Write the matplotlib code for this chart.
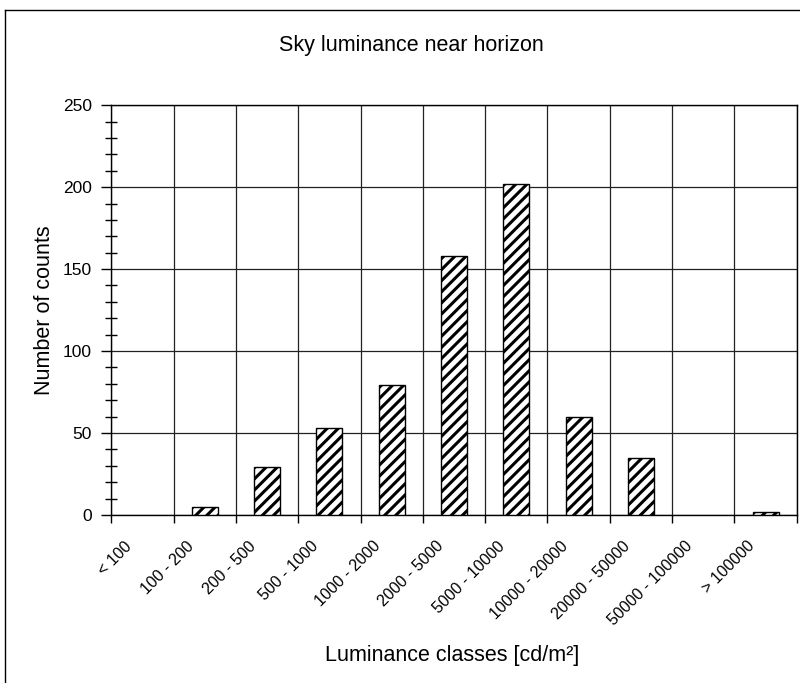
#!/usr/bin/env python3
"""
Histogram of sky luminance counts near the horizon, per luminance class
"""
import matplotlib
matplotlib.use('Agg')
import matplotlib.pyplot as plt
from matplotlib.lines import Line2D
from matplotlib.ticker import MultipleLocator
import numpy as np

plt.rcParams['font.family'] = ['Liberation Sans', 'DejaVu Sans']
plt.rcParams['hatch.linewidth'] = 2.2

# Luminance classes [cd/m2] and number of counts in each
classes = ['< 100', '100 - 200', '200 - 500', '500 - 1000', '1000 - 2000',
           '2000 - 5000', '5000 - 10000', '10000 - 20000', '20000 - 50000',
           '50000 - 100000', '> 100000']
counts = [0, 5, 29, 53, 79, 158, 202, 60, 35, 0, 2]

fig = plt.figure(figsize=(8, 6.83), dpi=100)
ax = fig.add_axes([0.139, 0.246, 0.857, 0.6])

x = np.arange(len(classes))
bars = ax.bar(x, counts, width=0.42, color='white', edgecolor='black',
              linewidth=1.0, hatch='///', zorder=3)
# empty classes get no outline
for b, c in zip(bars, counts):
    if c == 0:
        b.set_visible(False)

ax.set_xlim(-0.5, len(classes) - 0.5)
ax.set_ylim(0, 250)

# Gridlines on class boundaries; class names sit on invisible minor ticks,
# nudged left so the slanted text ends under its bar
ax.set_xticks(np.arange(len(classes) + 1) - 0.5)
ax.set_xticklabels([])
ax.set_xticks(x - 0.3, minor=True)
ax.set_xticklabels(classes, minor=True, rotation=45, ha='right', va='top',
                   rotation_mode='anchor', fontsize=11.5)
ax.tick_params(axis='x', which='major', direction='out', length=6, width=1)
ax.tick_params(axis='x', which='minor', length=0, pad=17)

ax.yaxis.set_major_locator(MultipleLocator(50))
ax.yaxis.set_minor_locator(MultipleLocator(10))
ax.tick_params(axis='y', which='major', direction='out', length=7, width=1,
               labelsize=12.5, pad=7)
ax.tick_params(axis='y', which='minor', direction='inout', length=8, width=1)

ax.grid(True, which='major', color='#222222', linewidth=0.9, zorder=0)
for s in ax.spines.values():
    s.set_linewidth(1.0)
    s.set_color('black')

fig.text(45 / 800, 1 - 310 / 683, 'Number of counts', fontsize=15.5,
         rotation=90, ha='center', va='center')
fig.text(452 / 800, 1 - 655 / 683, 'Luminance classes [cd/m²]', fontsize=15.5,
         ha='center', va='center')
fig.text(411 / 800, 1 - 45 / 683, 'Sky luminance near horizon', fontsize=15.5,
         ha='center', va='center')

# Chart frame
fig.add_artist(Line2D([5 / 800, 5 / 800], [0, 1 - 10 / 683], color='black',
                      linewidth=1.0, transform=fig.transFigure))
fig.add_artist(Line2D([5 / 800, 1], [1 - 10 / 683, 1 - 10 / 683], color='black',
                      linewidth=1.0, transform=fig.transFigure))

fig.savefig('out.png', dpi=100)
plt.close(fig)
